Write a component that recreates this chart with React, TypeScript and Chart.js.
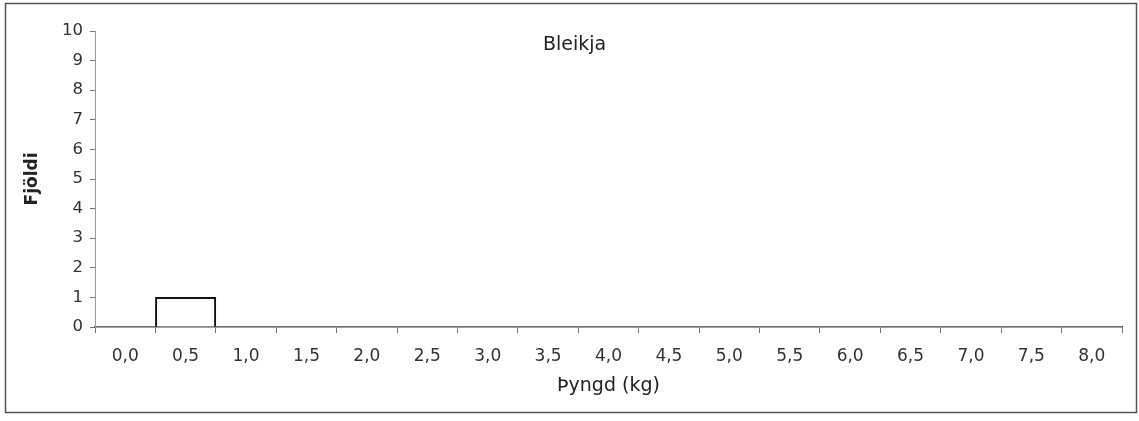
import React, { useEffect, useRef } from "react";
import { Chart, registerables } from "chart.js";

Chart.register(...registerables);

const categories = ["0,0", "0,5", "1,0", "1,5", "2,0", "2,5", "3,0", "3,5", "4,0", "4,5", "5,0", "5,5", "6,0", "6,5", "7,0", "7,5", "8,0"];
const counts = [0, 1, 0, 0, 0, 0, 0, 0, 0, 0, 0, 0, 0, 0, 0, 0, 0];
const chartTitle = "Bleikja";
const xTitle = "Þyngd (kg)";
const yTitle = "Fjöldi";
const yMin = 0;
const yMax = 10;

const FONT = "'DejaVu Sans', 'Liberation Sans', Arial, sans-serif";

const decorPlugin = {
  id: "decor",
  afterDraw(chart: any) {
    const ctx = chart.ctx;
    const area = chart.chartArea;
    ctx.save();
    // outer frame
    ctx.strokeStyle = "#555";
    ctx.lineWidth = 1.5;
    ctx.strokeRect(5.5, 3.5, 1131, 409);
    // in-plot title
    ctx.fillStyle = "#222";
    ctx.font = `19px ${FONT}`;
    ctx.textAlign = "center";
    ctx.textBaseline = "middle";
    const tx = area.left + (area.right - area.left) * 0.467;
    ctx.fillText(chartTitle, tx, area.top + 14);
    ctx.restore();
  },
};

export default function App() {
  const ref = useRef<HTMLCanvasElement | null>(null);

  useEffect(() => {
    if (!ref.current) return;
    const chart = new Chart(ref.current, {
      type: "bar",
      data: {
        labels: categories,
        datasets: [
          {
            data: counts,
            backgroundColor: "#ffffff",
            borderColor: "#111111",
            borderWidth: (c: any) => (c.raw ? 2 : 0),
            borderSkipped: "start",
            barPercentage: 1,
            categoryPercentage: 1,
          },
        ],
      },
      options: {
        responsive: false,
        animation: false,
        layout: { padding: { left: 0, right: 17, top: 31, bottom: 0 } },
        plugins: {
          legend: { display: false },
          tooltip: { enabled: false },
          title: { display: false },
        },
        scales: {
          x: {
            type: "category",
            offset: true,
            afterFit: (s: any) => {
              s.height = 94;
            },
            grid: {
              offset: true,
              drawOnChartArea: false,
              drawTicks: true,
              tickLength: 6,
              color: "#777",
            },
            border: { display: true, color: "#444", width: 1.5 },
            ticks: {
              color: "#333",
              font: { family: FONT, size: 17 },
              padding: 13,
              maxRotation: 0,
              autoSkip: false,
            },
            title: {
              display: true,
              text: xTitle,
              color: "#222",
              font: { family: FONT, size: 19 },
              padding: { top: 0, bottom: 24 },
            },
          },
          y: {
            min: yMin,
            max: yMax,
            afterFit: (s: any) => {
              s.width = 95;
            },
            grid: {
              drawOnChartArea: false,
              drawTicks: true,
              tickLength: 5,
              color: "#777",
            },
            border: { display: true, color: "#999", width: 1 },
            ticks: {
              stepSize: 1,
              color: "#333",
              font: { family: FONT, size: 16.5 },
              padding: 7,
            },
            title: {
              display: true,
              text: yTitle,
              color: "#222",
              font: { family: FONT, size: 17, weight: "bold" },
              padding: { top: 22, bottom: 0 },
            },
          },
        },
      },
      plugins: [decorPlugin],
    });
    return () => chart.destroy();
  }, []);

  return (
    <div style={{ position: "absolute", left: 0, top: 0, width: 1139, height: 421, background: "#fff" }}>
      <canvas ref={ref} width={1139} height={421} />
    </div>
  );
}
